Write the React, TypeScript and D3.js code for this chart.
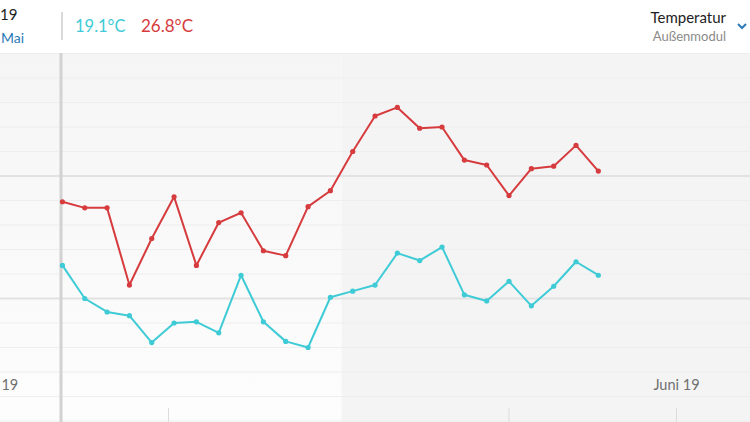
import React, { useEffect, useRef } from 'react';
import * as d3 from 'd3';

// daily readings, one point per day (noon)
const days: Date[] = d3.range(25).map(i => new Date(2019, 4, 4 + i, 12));
const maxTemps = [17.9, 17.4, 17.4, 11.1, 14.9, 18.3, 12.7, 16.2, 17.0, 13.9, 13.5, 17.5, 18.8,
  22.0, 24.9, 25.6, 23.9, 24.0, 21.3, 20.9, 18.4, 20.6, 20.8, 22.5, 20.4];
const minTemps = [12.7, 10.0, 8.9, 8.6, 6.4, 8.0, 8.1, 7.2, 11.9, 8.1, 6.5, 6.0, 10.1,
  10.6, 11.1, 13.7, 13.1, 14.2, 10.3, 9.8, 11.4, 9.4, 11.0, 13.0, 11.9];
const monthTicks: Date[] = [new Date(2019, 4, 1), new Date(2019, 5, 1)];
const monthLabels = ['Mai 19', 'Juni 19'];
const markerDates: Date[] = [new Date(2019, 4, 9, 6), new Date(2019, 4, 24, 12)];
const shadeFrom = new Date(2019, 4, 17);
const gridTemps = d3.range(0, 32, 2);
const majorTemps = [10, 20];

const RED = '#d63b3e';
const CYAN = '#3ecbd6';

const App: React.FC = () => {
  const svgRef = useRef<SVGSVGElement>(null);

  useEffect(() => {
    if (!svgRef.current) return;
    const svg = d3.select(svgRef.current);
    svg.selectAll('*').remove();

    const width = 750;
    const height = 422;
    const top = 53;
    const dayPx = 22.33;

    const x = d3
      .scaleTime()
      .domain(monthTicks)
      .range([676.5 - 31 * dayPx, 676.5]);
    const y = d3.scaleLinear().domain([0, 30]).range([421, 53.5]);

    // ### Backgrounds
    const defs = svg.append('defs');
    const grad = defs
      .append('linearGradient')
      .attr('id', 'leftFade')
      .attr('x1', 0).attr('y1', 0).attr('x2', 0).attr('y2', 1);
    grad.append('stop').attr('offset', '0%').attr('stop-color', '#f5f5f5');
    grad.append('stop').attr('offset', '100%').attr('stop-color', '#fdfdfd');

    svg.append('rect').attr('width', width).attr('height', height).attr('fill', '#fff');
    svg
      .append('rect')
      .attr('x', 0)
      .attr('y', top)
      .attr('width', x(shadeFrom))
      .attr('height', height - top)
      .attr('fill', 'url(#leftFade)');
    svg
      .append('rect')
      .attr('x', x(shadeFrom))
      .attr('y', top)
      .attr('width', width - x(shadeFrom))
      .attr('height', height - top)
      .attr('fill', '#f4f4f4');

    // ### Grid
    svg
      .append('g')
      .selectAll('line')
      .data(gridTemps)
      .join('line')
      .attr('x1', 0)
      .attr('x2', width)
      .attr('y1', d => y(d))
      .attr('y2', d => y(d))
      .attr('stroke', d => (majorTemps.includes(d) ? '#e2e2e2' : '#eeeeee'))
      .attr('stroke-width', d => (majorTemps.includes(d) ? 2 : 1));

    // ### Bottom markers
    svg
      .append('g')
      .selectAll('line')
      .data([...markerDates, monthTicks[1]])
      .join('line')
      .attr('x1', d => x(d))
      .attr('x2', d => x(d))
      .attr('y1', 408)
      .attr('y2', height)
      .attr('stroke', '#dcdcdc')
      .attr('stroke-width', 1);

    // ### Month labels (first one runs off the left edge)
    svg
      .append('g')
      .selectAll('text')
      .data(monthTicks)
      .join('text')
      .attr('x', d => Math.max(x(d), -4))
      .attr('y', 390)
      .attr('text-anchor', 'middle')
      .attr('font-family', 'Lato, "Open Sans", sans-serif')
      .attr('font-size', 14.5)
      .attr('fill', '#707070')
      .text((_, i) => monthLabels[i]);

    // ### Cursor line
    svg
      .append('line')
      .attr('x1', 61)
      .attr('x2', 61)
      .attr('y1', top)
      .attr('y2', height)
      .attr('stroke', '#d2d2d2')
      .attr('stroke-width', 3);

    // ### Series
    const drawSeries = (values: number[], color: string) => {
      const pts = days.map((d, i) => [x(d), y(values[i])] as [number, number]);
      svg
        .append('path')
        .datum(pts)
        .attr('fill', 'none')
        .attr('stroke', color)
        .attr('stroke-width', 2)
        .attr('stroke-linejoin', 'round')
        .attr('d', d3.line());
      svg
        .append('g')
        .selectAll('circle')
        .data(pts)
        .join('circle')
        .attr('cx', d => d[0])
        .attr('cy', d => d[1])
        .attr('r', 2.6)
        .attr('fill', color);
    };
    drawSeries(maxTemps, RED);
    drawSeries(minTemps, CYAN);

    // ### Header
    const font = 'Lato, "Open Sans", sans-serif';
    svg
      .append('text')
      .attr('x', 0)
      .attr('y', 20)
      .attr('font-family', font)
      .attr('font-size', 15)
      .attr('fill', '#222')
      .text('19');
    svg
      .append('text')
      .attr('x', 1)
      .attr('y', 43)
      .attr('font-family', font)
      .attr('font-size', 14)
      .attr('fill', '#2a7ab8')
      .text('Mai');
    svg
      .append('line')
      .attr('x1', 62)
      .attr('x2', 62)
      .attr('y1', 12)
      .attr('y2', 40)
      .attr('stroke', '#cccccc')
      .attr('stroke-width', 1.5);
    svg
      .append('text')
      .attr('x', 75)
      .attr('y', 32)
      .attr('font-family', font)
      .attr('font-size', 16.5)
      .attr('fill', CYAN)
      .text('19.1°C');
    svg
      .append('text')
      .attr('x', 141)
      .attr('y', 32)
      .attr('font-family', font)
      .attr('font-size', 17)
      .attr('fill', RED)
      .text('26.8°C');
    svg
      .append('text')
      .attr('x', 726)
      .attr('y', 23)
      .attr('text-anchor', 'end')
      .attr('font-family', font)
      .attr('font-size', 15)
      .attr('fill', '#222')
      .text('Temperatur');
    svg
      .append('text')
      .attr('x', 726)
      .attr('y', 41)
      .attr('text-anchor', 'end')
      .attr('font-family', font)
      .attr('font-size', 13)
      .attr('fill', '#8a8a8a')
      .text('Außenmodul');
    svg
      .append('path')
      .attr('d', 'M738,24 L742,28 L746,24')
      .attr('fill', 'none')
      .attr('stroke', '#2a7ab8')
      .attr('stroke-width', 2);
  }, []);

  return (
    <svg
      ref={svgRef}
      width={750}
      height={422}
      style={{ position: 'fixed', top: 0, left: 0, display: 'block' }}
    />
  );
};

export default App;
